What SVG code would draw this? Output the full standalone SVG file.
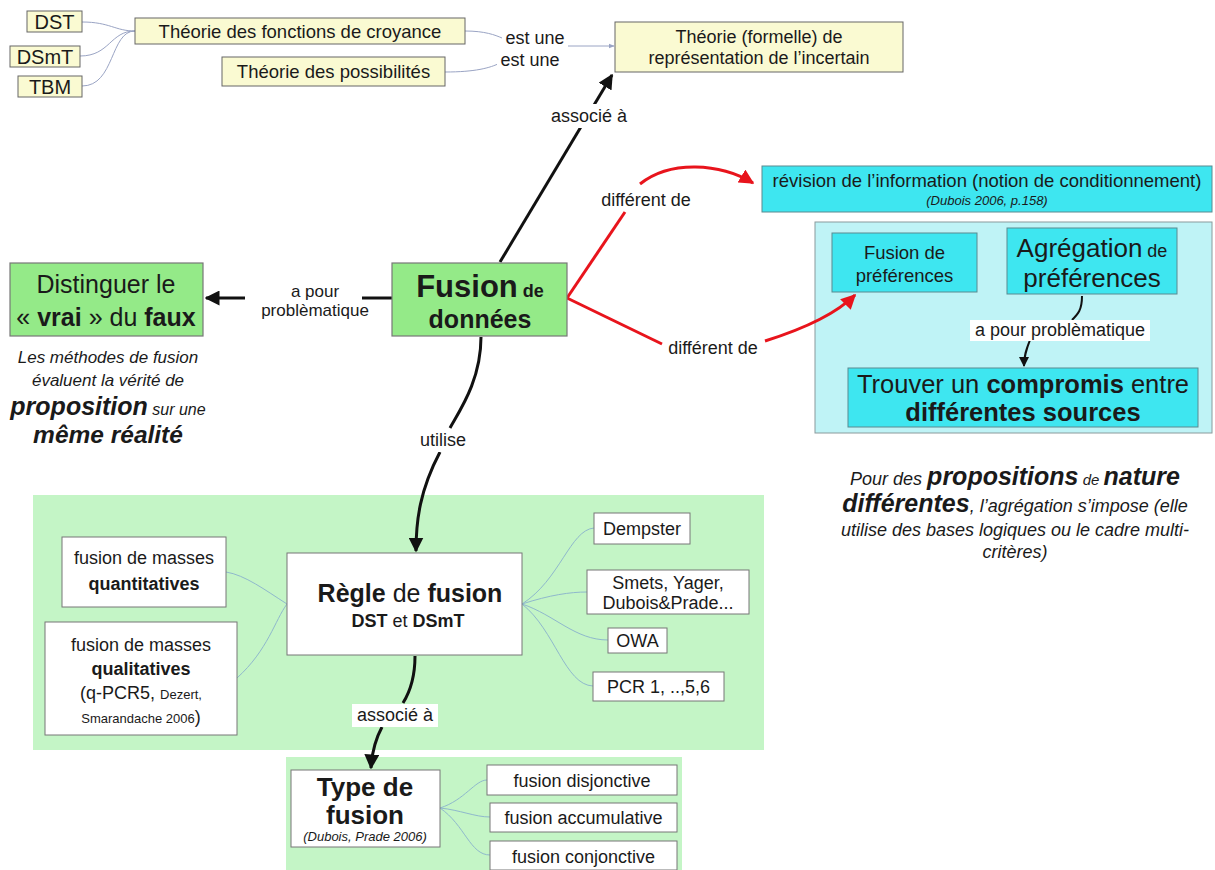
<svg xmlns="http://www.w3.org/2000/svg" width="1215" height="870" viewBox="0 0 1215 870">
<style>
text{font-family:"Liberation Sans",Arial,sans-serif;fill:#1a1a1a}
.y{fill:#fafad2;stroke:#666;stroke-width:1}
.g{fill:#94ea88;stroke:#777;stroke-width:1.2}
.c{fill:#3ee6f0;stroke:#5a8a90;stroke-width:1}
.w{fill:#fff;stroke:#777;stroke-width:1}
.thin{fill:none;stroke:#9aa4c4;stroke-width:1}
.thinb{fill:none;stroke:#8fb8cc;stroke-width:1}
.blk{fill:none;stroke:#111;stroke-width:3}
.red{fill:none;stroke:#e8141c;stroke-width:3}
.lb{fill:#fff}
.it{font-style:italic}
.b{font-weight:bold}
</style>
<defs>
<marker id="ab" viewBox="0 0 10 10" refX="9" refY="5" markerWidth="5" markerHeight="5" orient="auto"><path d="M0,0L10,5L0,10z" fill="#111"/></marker>
<marker id="ar" viewBox="0 0 10 10" refX="9" refY="5" markerWidth="5" markerHeight="5" orient="auto"><path d="M0,0L10,5L0,10z" fill="#e8141c"/></marker>
<marker id="ag" viewBox="0 0 10 10" refX="9" refY="5" markerWidth="6" markerHeight="6" orient="auto"><path d="M0,1L10,5L0,9z" fill="#9aa4c4"/></marker>
</defs>
<rect width="1215" height="870" fill="#fff"/>

<!-- panels -->
<rect id="panel-regle" x="33" y="495" width="731" height="255" fill="#c4f5c6"/>
<rect id="panel-type" x="286" y="757" width="396" height="113" fill="#c4f5c6"/>
<rect id="panel-pref" x="815" y="222" width="397" height="211" fill="#bff3f6" stroke="#8a9a9c" stroke-width="1"/>

<!-- connectors -->
<g id="connectors">
<path class="thin" d="M82,22 C110,22 115,31 135,31"/>
<path class="thin" d="M80,56 C110,56 110,31 135,31"/>
<path class="thin" d="M82,86 C115,86 110,31 135,31"/>
<path class="thin" d="M465,31 C485,31 495,35 502,38"/>
<path class="thin" d="M566,46 L614,46" marker-end="url(#ag)"/>
<path class="thin" d="M445,72 C475,72 490,68 500,63"/>
<path class="blk" d="M500,262 L612,75" marker-end="url(#ab)"/>
<path class="blk" d="M392,298 L362,298"/>
<path class="blk" d="M245,298 L206,298" marker-end="url(#ab)"/>
<path class="red" d="M567,298 L625,212"/>
<path class="red" d="M640,184 C670,160 720,163 753,183" marker-end="url(#ar)"/>
<path class="red" d="M567,298 L662,344"/>
<path class="red" d="M765,341 C800,330 835,315 855,295" marker-end="url(#ar)"/>
<path class="blk" d="M481,337 C481,380 460,410 450,428"/>
<path class="blk" d="M440,452 C420,490 416,520 416,551" marker-end="url(#ab)"/>
<path fill="none" stroke="#111" stroke-width="2" d="M1082,296 C1082,310 1078,314 1072,320"/>
<path fill="none" stroke="#111" stroke-width="2" d="M1030,340 C1026,350 1024,356 1024,366" marker-end="url(#ab)"/>
<path class="blk" d="M415,656 C415,680 408,695 403,703"/>
<path class="blk" d="M382,727 C375,740 372,752 371,768" marker-end="url(#ab)"/>
<path class="thinb" d="M287,604 C265,590 245,575 226,572"/>
<path class="thinb" d="M287,604 C275,620 268,650 237,678"/>
<path class="thinb" d="M522,604 C560,580 570,530 594,528"/>
<path class="thinb" d="M522,604 C550,595 570,592 587,592"/>
<path class="thinb" d="M522,604 C555,615 575,640 608,640"/>
<path class="thinb" d="M522,604 C555,630 565,685 593,686"/>
<path class="thinb" d="M440,808 C465,800 475,780 487,780"/>
<path class="thinb" d="M440,808 C460,810 475,817 490,817"/>
<path class="thinb" d="M440,808 C465,825 470,855 490,855"/>
</g>

<!-- connector labels -->
<g id="labels">
<rect class="lb" x="502" y="28" width="66" height="20"/>
<text x="535" y="44" font-size="18" text-anchor="middle">est une</text>
<rect class="lb" x="497" y="51" width="66" height="19"/>
<text x="530" y="66" font-size="18" text-anchor="middle">est une</text>
<rect class="lb" x="547" y="104" width="84" height="24"/>
<text x="589" y="122" font-size="18" text-anchor="middle">associé à</text>
<text x="315" y="297" font-size="17" text-anchor="middle">a pour</text>
<text x="315" y="316" font-size="17" text-anchor="middle">problèmatique</text>
<rect class="lb" x="597" y="189" width="98" height="22"/>
<text x="646" y="206" font-size="18" text-anchor="middle">différent de</text>
<rect class="lb" x="664" y="337" width="98" height="22"/>
<text x="713" y="354" font-size="18" text-anchor="middle">différent de</text>
<rect class="lb" x="420" y="430" width="46" height="22"/>
<text x="443" y="446" font-size="18" text-anchor="middle">utilise</text>
<rect class="lb" x="970" y="320" width="180" height="21"/>
<text x="1060" y="336" font-size="18" text-anchor="middle">a pour problèmatique</text>
<rect class="lb" x="352" y="704" width="86" height="23"/>
<text x="395" y="721" font-size="18" text-anchor="middle">associé à</text>
</g>

<g id="n-dst"><rect class="y" x="27" y="11" width="55" height="21"/><text x="54.5" y="29" font-size="20" text-anchor="middle">DST</text></g>
<g id="n-dsmt"><rect class="y" x="10" y="46" width="70" height="21"/><text x="45" y="64" font-size="20" text-anchor="middle">DSmT</text></g>
<g id="n-tbm"><rect class="y" x="18" y="76" width="64" height="21"/><text x="50" y="94" font-size="20" text-anchor="middle">TBM</text></g>
<g id="n-croyance"><rect class="y" x="135" y="18" width="330" height="26"/><text x="300" y="38" font-size="18.5" text-anchor="middle">Théorie des fonctions de croyance</text></g>
<g id="n-possib"><rect class="y" x="222" y="57" width="223" height="29"/><text x="333.5" y="78" font-size="18.5" text-anchor="middle">Théorie des possibilités</text></g>
<g id="n-incertain"><rect class="y" x="615" y="22" width="288" height="50"/><text x="759" y="43" font-size="18" text-anchor="middle">Théorie (formelle) de</text><text x="759" y="64" font-size="18" text-anchor="middle">représentation de l’incertain</text></g>

<g id="n-fusion"><rect class="g" x="392" y="263" width="175" height="73"/>
<text x="480" y="297" text-anchor="middle" class="b"><tspan font-size="31">Fusion</tspan><tspan font-size="18"> de</tspan></text>
<text x="480" y="328" font-size="25" text-anchor="middle" class="b">données</text></g>

<g id="n-distinguer"><rect class="g" x="10" y="263" width="193" height="73"/>
<text x="106" y="293" font-size="25" text-anchor="middle">Distinguer le</text>
<text x="106" y="326" font-size="25" text-anchor="middle">« <tspan class="b">vrai</tspan> » du <tspan class="b">faux</tspan></text></g>

<g id="n-note-left">
<text x="108" y="363" font-size="17" text-anchor="middle" class="it">Les méthodes de fusion</text>
<text x="108" y="386" font-size="17" text-anchor="middle" class="it">évaluent la vérité de</text>
<text x="108" y="415" text-anchor="middle" class="it"><tspan font-size="25" class="b">proposition</tspan><tspan font-size="16">  sur une</tspan></text>
<text x="108" y="443" font-size="24.5" text-anchor="middle" class="it b">même réalité</text>
</g>

<g id="n-revision"><rect class="c" x="762" y="166" width="450" height="46"/>
<text x="987" y="187" font-size="18.5" text-anchor="middle">révision de l’information (notion de conditionnement)</text>
<text x="987" y="205" font-size="13" text-anchor="middle" class="it">(Dubois 2006, p.158)</text></g>

<g id="n-fusionpref"><rect class="c" x="832" y="233" width="145" height="59"/>
<text x="904.5" y="259" font-size="18.5" text-anchor="middle">Fusion de</text>
<text x="904.5" y="282" font-size="18.5" text-anchor="middle">préférences</text></g>

<g id="n-agreg"><rect class="c" x="1007" y="228" width="170" height="66"/>
<text x="1092" y="257" text-anchor="middle"><tspan font-size="26">Agrégation</tspan><tspan font-size="18"> de</tspan></text>
<text x="1092" y="287" font-size="26" text-anchor="middle">préférences</text></g>

<g id="n-trouver"><rect class="c" x="848" y="368" width="350" height="59"/>
<text x="1023" y="393" font-size="25.5" text-anchor="middle">Trouver un <tspan class="b">compromis</tspan> entre</text>
<text x="1023" y="421" font-size="25.5" text-anchor="middle" class="b">différentes sources</text></g>

<g id="n-note-right">
<text x="1015" y="485" text-anchor="middle" class="it"><tspan font-size="18">Pour des </tspan><tspan font-size="25" class="b">propositions</tspan><tspan font-size="15"> de </tspan><tspan font-size="25" class="b">nature</tspan></text>
<text x="1015" y="512" text-anchor="middle" class="it"><tspan font-size="25" class="b">différentes</tspan><tspan font-size="18">,  l’agrégation s’impose (elle</tspan></text>
<text x="1015" y="536" font-size="18" text-anchor="middle" class="it">utilise des bases logiques ou le cadre multi-</text>
<text x="1015" y="558" font-size="18" text-anchor="middle" class="it">critères)</text>
</g>

<g id="n-quanti"><rect class="w" x="62" y="537" width="164" height="70"/>
<text x="144" y="564" font-size="18" text-anchor="middle">fusion de masses</text>
<text x="144" y="590" font-size="18" text-anchor="middle" class="b">quantitatives</text></g>

<g id="n-quali"><rect class="w" x="45" y="622" width="192" height="113"/>
<text x="141" y="651" font-size="18" text-anchor="middle">fusion de masses</text>
<text x="141" y="675" font-size="18" text-anchor="middle" class="b">qualitatives</text>
<text x="141" y="699" text-anchor="middle"><tspan font-size="18">(q-PCR5, </tspan><tspan font-size="13">Dezert,</tspan></text>
<text x="141" y="723" text-anchor="middle"><tspan font-size="13">Smarandache 2006</tspan><tspan font-size="18">)</tspan></text></g>

<g id="n-regle"><rect class="w" x="287" y="553" width="235" height="102"/>
<text x="410" y="602" font-size="25" text-anchor="middle"><tspan class="b">Règle</tspan> de <tspan class="b">fusion</tspan></text>
<text x="408" y="627" font-size="18" text-anchor="middle"><tspan class="b">DST</tspan> et <tspan class="b">DSmT</tspan></text></g>

<g id="n-dempster"><rect class="w" x="594" y="513" width="96" height="31"/><text x="642" y="535" font-size="18" text-anchor="middle">Dempster</text></g>
<g id="n-smets"><rect class="w" x="587" y="570" width="162" height="44"/><text x="668" y="589" font-size="18" text-anchor="middle">Smets, Yager,</text><text x="668" y="609" font-size="18" text-anchor="middle">Dubois&amp;Prade...</text></g>
<g id="n-owa"><rect class="w" x="608" y="628" width="59" height="25"/><text x="637.5" y="647" font-size="18" text-anchor="middle">OWA</text></g>
<g id="n-pcr"><rect class="w" x="593" y="672" width="131" height="29"/><text x="658.5" y="693" font-size="18" text-anchor="middle">PCR 1, ..,5,6</text></g>

<g id="n-type"><rect class="w" x="291" y="770" width="149" height="77"/>
<text x="365" y="796" font-size="26" text-anchor="middle" class="b">Type de</text>
<text x="365" y="824" font-size="26" text-anchor="middle" class="b">fusion</text>
<text x="365" y="841" font-size="13" text-anchor="middle" class="it">(Dubois, Prade 2006)</text></g>

<g id="n-disj"><rect class="w" x="487" y="765" width="190" height="30"/><text x="582" y="787" font-size="18" text-anchor="middle">fusion disjonctive</text></g>
<g id="n-accu"><rect class="w" x="490" y="803" width="187" height="29"/><text x="583.5" y="824" font-size="18" text-anchor="middle">fusion accumulative</text></g>
<g id="n-conj"><rect class="w" x="490" y="841" width="187" height="29"/><text x="583.5" y="863" font-size="18" text-anchor="middle">fusion conjonctive</text></g>
</svg>
